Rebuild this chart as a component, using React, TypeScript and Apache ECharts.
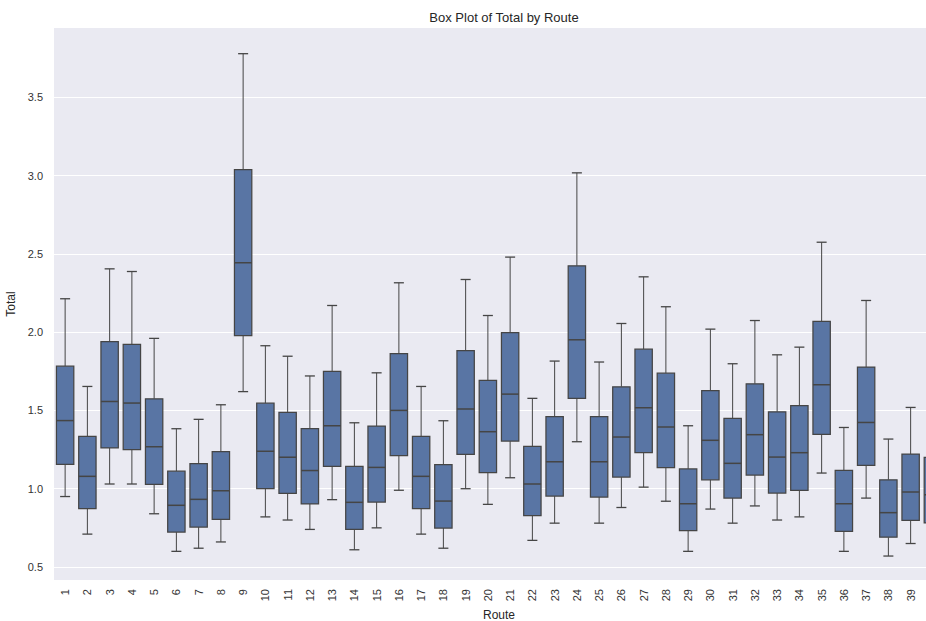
import React, { useEffect, useRef } from "react";
import * as echarts from "echarts";

const routes: string[] = Array.from({ length: 40 }, (_, i) => String(i + 1));

// [whiskerLow, Q1, median, Q3, whiskerHigh] per route
const whiskerLow = [0.95, 0.71, 1.03, 1.03, 0.84, 0.60, 0.62, 0.66, 1.62, 0.82, 0.80, 0.74, 0.93, 0.61, 0.75, 0.99, 0.71, 0.62, 1.00, 0.90, 1.07, 0.67, 0.78, 1.30, 0.78, 0.88, 1.01, 0.92, 0.60, 0.87, 0.78, 0.89, 0.80, 0.82, 1.10, 0.60, 0.94, 0.57, 0.65, 0.64];
const q1 = [1.155, 0.872, 1.26, 1.25, 1.028, 0.723, 0.755, 0.804, 1.978, 1.00, 0.97, 0.903, 1.143, 0.74, 0.915, 1.211, 0.872, 0.749, 1.219, 1.102, 1.304, 0.828, 0.953, 1.577, 0.947, 1.074, 1.23, 1.134, 0.732, 1.057, 0.94, 1.087, 0.972, 0.989, 1.347, 0.728, 1.149, 0.69, 0.798, 0.781];
const median = [1.435, 1.079, 1.557, 1.547, 1.268, 0.894, 0.932, 0.987, 2.443, 1.239, 1.201, 1.116, 1.402, 0.913, 1.136, 1.50, 1.079, 0.921, 1.509, 1.364, 1.604, 1.03, 1.172, 1.951, 1.172, 1.33, 1.517, 1.394, 0.904, 1.309, 1.162, 1.345, 1.202, 1.23, 1.664, 0.904, 1.423, 0.847, 0.979, 0.962];
const q3 = [1.782, 1.334, 1.94, 1.921, 1.574, 1.112, 1.16, 1.236, 3.037, 1.546, 1.488, 1.384, 1.749, 1.143, 1.40, 1.862, 1.334, 1.153, 1.881, 1.691, 1.996, 1.27, 1.46, 2.423, 1.46, 1.651, 1.891, 1.738, 1.126, 1.626, 1.449, 1.67, 1.491, 1.53, 2.068, 1.117, 1.777, 1.057, 1.221, 1.20];
const whiskerHigh = [2.213, 1.653, 2.404, 2.387, 1.96, 1.383, 1.443, 1.536, 3.778, 1.913, 1.846, 1.72, 2.17, 1.421, 1.74, 2.315, 1.653, 1.434, 2.336, 2.106, 2.479, 1.577, 1.815, 3.017, 1.809, 2.055, 2.353, 2.162, 1.402, 2.019, 1.798, 2.074, 1.855, 1.904, 2.574, 1.391, 2.202, 1.317, 1.519, 1.489];

const yMin = 0.417;
const yMax = 3.942;

const FONT = "'Liberation Sans', Arial, sans-serif";
const BOX_FILL = "#5975a4";
const LINE = "#454545";

export default function App() {
  const ref = useRef<HTMLDivElement>(null);

  useEffect(() => {
    document.body.style.margin = "0";
    if (!ref.current) return;
    const chart = echarts.init(ref.current, undefined, { renderer: "svg" });

    const data = routes.map((_, i) => [i, whiskerLow[i], q1[i], median[i], q3[i], whiskerHigh[i]]);

    chart.setOption({
      animation: false,
      backgroundColor: "#ffffff",
      title: {
        text: "Box Plot of Total by Route",
        left: 499,
        top: 6,
        textAlign: "center",
        textStyle: { fontFamily: FONT, fontSize: 13, fontWeight: "normal", color: "#262626" },
      },
      grid: {
        left: 54,
        top: 28,
        width: 890,
        height: 552,
        show: true,
        backgroundColor: "#eaeaf2",
        borderWidth: 0,
        containLabel: false,
        outerBoundsMode: "none",
      },
      xAxis: {
        type: "category",
        data: routes,
        boundaryGap: true,
        name: "Route",
        nameLocation: "middle",
        nameGap: 28,
        nameTextStyle: { fontFamily: FONT, fontSize: 12, color: "#262626" },
        axisLine: { show: false },
        axisTick: { show: false },
        splitLine: { show: false },
        axisLabel: {
          rotate: 90,
          interval: 0,
          margin: 9,
          fontFamily: FONT,
          fontSize: 11,
          color: "#333333",
        },
      },
      yAxis: {
        type: "value",
        min: yMin,
        max: yMax,
        splitNumber: 7,
        name: "Total",
        nameLocation: "middle",
        nameGap: 35,
        nameRotate: 90,
        nameTextStyle: { fontFamily: FONT, fontSize: 12, color: "#262626" },
        axisLine: { show: false },
        axisTick: { show: false },
        splitLine: { show: true, showMinLine: false, showMaxLine: false, lineStyle: { color: "#ffffff", width: 1 } },
        axisLabel: {
          showMinLabel: false,
          showMaxLabel: false,
          margin: 11,
          fontFamily: FONT,
          fontSize: 11,
          color: "#333333",
          formatter: (v: number) => v.toFixed(1),
        },
      },
      series: [
        {
          type: "custom",
          data,
          encode: { x: 0, y: [1, 2, 3, 4, 5] },
          renderItem: (params: any, api: any) => {
            const x = api.value(0);
            const pLow = api.coord([x, api.value(1)]);
            const pQ1 = api.coord([x, api.value(2)]);
            const pMed = api.coord([x, api.value(3)]);
            const pQ3 = api.coord([x, api.value(4)]);
            const pHigh = api.coord([x, api.value(5)]);
            const band = api.size([1, 0])[0];
            const bw = band * 0.78;
            const cw = band * 0.45;
            const cx = pMed[0];
            const lineStyle = { stroke: LINE, lineWidth: 1 };
            return {
              type: "group",
              children: [
                { type: "line", shape: { x1: cx, y1: pHigh[1], x2: cx, y2: pQ3[1] }, style: lineStyle },
                { type: "line", shape: { x1: cx, y1: pQ1[1], x2: cx, y2: pLow[1] }, style: lineStyle },
                { type: "line", shape: { x1: cx - cw / 2, y1: pHigh[1], x2: cx + cw / 2, y2: pHigh[1] }, style: { stroke: LINE, lineWidth: 1.3 } },
                { type: "line", shape: { x1: cx - cw / 2, y1: pLow[1], x2: cx + cw / 2, y2: pLow[1] }, style: { stroke: LINE, lineWidth: 1.3 } },
                {
                  type: "rect",
                  shape: { x: cx - bw / 2, y: pQ3[1], width: bw, height: pQ1[1] - pQ3[1] },
                  style: { fill: BOX_FILL, stroke: LINE, lineWidth: 1.25 },
                },
                { type: "line", shape: { x1: cx - bw / 2, y1: pMed[1], x2: cx + bw / 2, y2: pMed[1] }, style: { stroke: LINE, lineWidth: 1.5 } },
              ],
            };
          },
        },
      ],
    });

    return () => chart.dispose();
  }, []);

  return <div ref={ref} style={{ width: 926, height: 621, position: "absolute", left: 0, top: 0 }} />;
}
